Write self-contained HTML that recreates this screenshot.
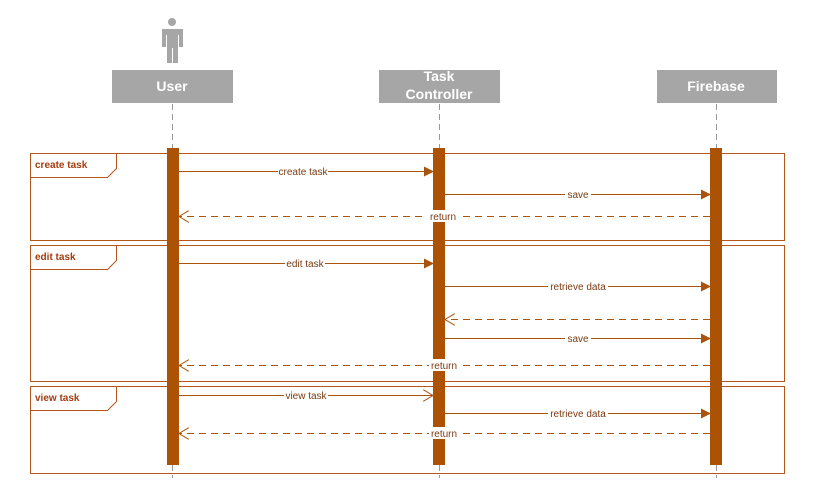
<!DOCTYPE html>
<html><head><style>
body{margin:0;background:#fff;width:829px;height:491px;overflow:hidden}
svg text{font-family:"Liberation Sans",sans-serif}
</style></head><body>
<svg width="829" height="491" viewBox="0 0 829 491" xmlns="http://www.w3.org/2000/svg">
<defs>
<marker id="fa" markerWidth="10" markerHeight="10" refX="9" refY="5" orient="auto" markerUnits="userSpaceOnUse"><path d="M0,0 L10,5 L0,10 Z" fill="#a8540c"/></marker>
<marker id="oa" markerWidth="11" markerHeight="12" refX="10" refY="6" orient="auto" markerUnits="userSpaceOnUse"><path d="M0,0 L10,6 L0,12" fill="none" stroke="#a8540c" stroke-width="1"/></marker>
</defs>
<!-- actor -->
<g fill="#a6a6a6">
<circle cx="172" cy="22" r="4"/>
<rect x="162" y="29" width="21" height="6" rx="2"/>
<rect x="162" y="29" width="4" height="18"/>
<rect x="179" y="29" width="4" height="18"/>
<rect x="167" y="29" width="11" height="19"/>
<rect x="167" y="45" width="5" height="18"/>
<rect x="173" y="45" width="5" height="18"/>
</g>
<!-- heads -->
<g font-weight="bold" font-size="14" fill="#fff" text-anchor="middle">
<rect x="112" y="70" width="121" height="33" fill="#a6a6a6"/>
<text x="172" y="91">User</text>
<rect x="379" y="70" width="121" height="33" fill="#a6a6a6"/>
<text x="439" y="81">Task</text><text x="439" y="99">Controller</text>
<rect x="657" y="70" width="120" height="33" fill="#a6a6a6"/>
<text x="716" y="91">Firebase</text>
</g>
<g stroke="#999" stroke-dasharray="6,4" stroke-width="1">
<line x1="172.5" y1="104" x2="172.5" y2="148"/>
<line x1="439.5" y1="104" x2="439.5" y2="148"/>
<line x1="716.5" y1="104" x2="716.5" y2="148"/>
<line x1="172.5" y1="465" x2="172.5" y2="478"/>
<line x1="439.5" y1="465" x2="439.5" y2="478"/>
<line x1="716.5" y1="465" x2="716.5" y2="478"/>
</g>
<!-- frames -->
<g fill="none" stroke="#b5561a" stroke-width="1">
<rect x="30.5" y="153.5" width="754" height="87"/>
<rect x="30.5" y="245.5" width="754" height="136"/>
<rect x="30.5" y="386.5" width="754" height="87"/>
<path d="M30.5,177.5 H107.5 L116.5,168.5 V153.5"/>
<path d="M30.5,269.5 H107.5 L116.5,260.5 V245.5"/>
<path d="M30.5,410.5 H107.5 L116.5,401.5 V386.5"/>
</g>
<g font-weight="bold" font-size="10" fill="#a33c10">
<text x="35" y="168">create task</text>
<text x="35" y="260">edit task</text>
<text x="35" y="401">view task</text>
</g>
<!-- bars -->
<g fill="#ac5205">
<rect x="167" y="148" width="12" height="317"/>
<rect x="433" y="148" width="12" height="317"/>
<rect x="710" y="148" width="12" height="317"/>
</g>
<!-- messages -->
<g stroke="#a8540c" stroke-width="1" fill="none">
<line x1="179" y1="171.5" x2="433" y2="171.5" marker-end="url(#fa)"/>
<line x1="445" y1="194.5" x2="710" y2="194.5" marker-end="url(#fa)"/>
<line x1="710" y1="216.5" x2="179" y2="216.5" stroke-dasharray="7,5" marker-end="url(#oa)"/>
<line x1="179" y1="263.5" x2="433" y2="263.5" marker-end="url(#fa)"/>
<line x1="445" y1="286.5" x2="710" y2="286.5" marker-end="url(#fa)"/>
<line x1="710" y1="319.5" x2="445" y2="319.5" stroke-dasharray="7,5" marker-end="url(#oa)"/>
<line x1="445" y1="338.5" x2="710" y2="338.5" marker-end="url(#fa)"/>
<line x1="710" y1="365.5" x2="179" y2="365.5" stroke-dasharray="7,5" marker-end="url(#oa)"/>
<line x1="179" y1="395.5" x2="433" y2="395.5" marker-end="url(#oa)"/>
<line x1="445" y1="413.5" x2="710" y2="413.5" marker-end="url(#fa)"/>
<line x1="710" y1="433.5" x2="179" y2="433.5" stroke-dasharray="7,5" marker-end="url(#oa)"/>
</g>
<g font-size="10" fill="#7a3a10" text-anchor="middle">
<rect x="278" y="165" width="50" height="12" fill="#fff"/><text x="303" y="175">create task</text>
<rect x="565" y="188" width="26" height="12" fill="#fff"/><text x="578" y="198">save</text>
<rect x="427" y="210" width="32" height="12" fill="#fff"/><text x="443" y="220">return</text>
<rect x="285" y="257" width="40" height="12" fill="#fff"/><text x="305" y="267">edit task</text>
<rect x="548" y="280" width="60" height="12" fill="#fff"/><text x="578" y="290">retrieve data</text>
<rect x="565" y="332" width="26" height="12" fill="#fff"/><text x="578" y="342">save</text>
<rect x="429" y="359" width="30" height="12" fill="#fff"/><text x="444" y="369">return</text>
<rect x="284" y="389" width="44" height="12" fill="#fff"/><text x="306" y="399">view task</text>
<rect x="548" y="407" width="60" height="12" fill="#fff"/><text x="578" y="417">retrieve data</text>
<rect x="429" y="427" width="30" height="12" fill="#fff"/><text x="444" y="437">return</text>
</g>
</svg>
</body></html>
